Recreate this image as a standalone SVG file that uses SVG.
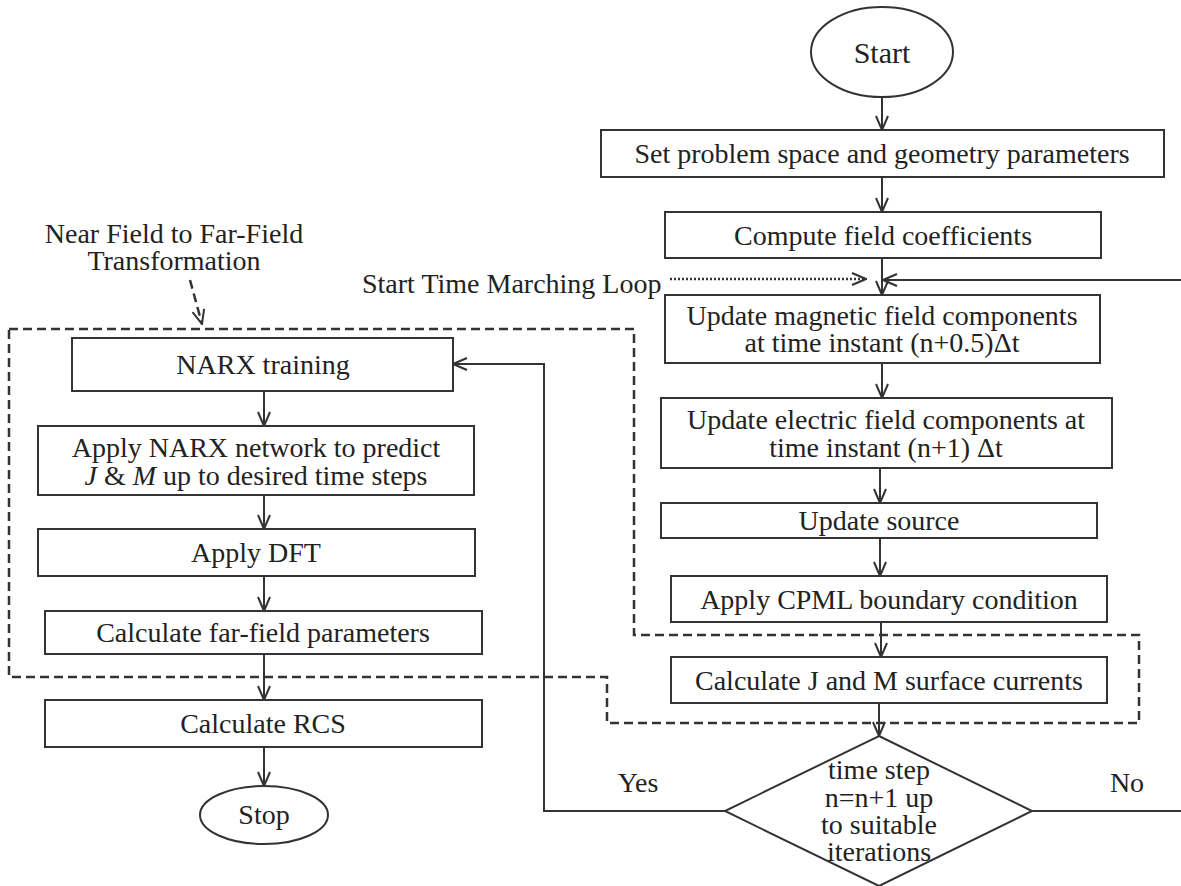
<svg xmlns="http://www.w3.org/2000/svg" width="1181" height="886" viewBox="0 0 1181 886">
<defs>
<marker id="arr" viewBox="0 0 16 14" refX="15" refY="7" markerWidth="16" markerHeight="14" markerUnits="userSpaceOnUse" orient="auto">
<path d="M1,1 L15,7 L1,13" fill="none" stroke="#333" stroke-width="2"/>
</marker>
<style>
.box{fill:#fff;stroke:#333;stroke-width:2}
.t{font-family:"Liberation Serif","Times New Roman",serif;font-size:28px;fill:#222;text-anchor:middle}
.ln{fill:none;stroke:#333;stroke-width:2}
.dash{fill:none;stroke:#333;stroke-width:2.5;stroke-dasharray:9 5}
.dot{fill:none;stroke:#333;stroke-width:2.5;stroke-dasharray:2 2}
</style>
</defs>
<rect width="1181" height="886" fill="#fff"/>

<g id="connectors">
<path class="dash" d="M9,329 L634,329 L634,635 L1139,635 L1139,723 L607,723 L607,677 L9,677 Z"/>
<path class="ln" d="M882,97 L882,130" marker-end="url(#arr)"/>
<path class="ln" d="M882,177 L882,212" marker-end="url(#arr)"/>
<path class="ln" d="M882,258 L882,295" marker-end="url(#arr)"/>
<path class="ln" d="M882,363 L882,398" marker-end="url(#arr)"/>
<path class="ln" d="M880,468 L880,503" marker-end="url(#arr)"/>
<path class="ln" d="M880,538 L880,576" marker-end="url(#arr)"/>
<path class="ln" d="M881,622 L881,657" marker-end="url(#arr)"/>
<path class="ln" d="M879,703 L879,736" marker-end="url(#arr)"/>
<path class="ln" d="M1181,280 L883,280" marker-end="url(#arr)"/>
<path class="ln" d="M1032,811 L1181,811"/>
<path class="ln" d="M725,811 L544,811 L544,364 L453,364" marker-end="url(#arr)"/>
<path class="dot" d="M670,279 L866,279" marker-end="url(#arr)"/>
<path class="dash" d="M190,280 L202,324" marker-end="url(#arr)"/>
<path class="ln" d="M264,391 L264,426" marker-end="url(#arr)"/>
<path class="ln" d="M264,495 L264,529" marker-end="url(#arr)"/>
<path class="ln" d="M264,576 L264,611" marker-end="url(#arr)"/>
<path class="ln" d="M264,654 L264,700" marker-end="url(#arr)"/>
<path class="ln" d="M264,747 L264,786" marker-end="url(#arr)"/>
</g>

<g id="labels">
<text class="t" x="174" y="243">Near Field to Far-Field</text>
<text class="t" x="174" y="270">Transformation</text>
<text class="t" x="362" y="293" style="text-anchor:start">Start Time Marching Loop</text>
<text class="t" x="638" y="792">Yes</text>
<text class="t" x="1127" y="792">No</text>
</g>

<g id="start">
<ellipse class="box" cx="882" cy="52" rx="71" ry="45"/>
<text class="t" x="882" y="63" style="font-size:30px">Start</text>
</g>
<g id="set-problem">
<rect class="box" x="601" y="130" width="563" height="47"/>
<text class="t" x="882" y="163">Set problem space and geometry parameters</text>
</g>
<g id="compute-coeff">
<rect class="box" x="665" y="212" width="436" height="46"/>
<text class="t" x="883" y="245">Compute field coefficients</text>
</g>
<g id="update-magnetic">
<rect class="box" x="665" y="295" width="435" height="68"/>
<text class="t" x="882" y="325">Update magnetic field components</text>
<text class="t" x="882" y="352">at time instant (n+0.5)Δt</text>
</g>
<g id="update-electric">
<rect class="box" x="661" y="398" width="451" height="70"/>
<text class="t" x="886" y="429">Update electric field components at</text>
<text class="t" x="886" y="457">time instant (n+1) Δt</text>
</g>
<g id="update-source">
<rect class="box" x="661" y="503" width="436" height="35"/>
<text class="t" x="879" y="530">Update source</text>
</g>
<g id="apply-cpml">
<rect class="box" x="671" y="576" width="436" height="46"/>
<text class="t" x="889" y="609">Apply CPML boundary condition</text>
</g>
<g id="calc-jm">
<rect class="box" x="671" y="657" width="436" height="46"/>
<text class="t" x="889" y="690">Calculate J and M surface currents</text>
</g>
<g id="decision">
<polygon class="box" points="879,736 1032,811 879,886 725,811"/>
<text class="t" x="879" y="779">time step</text>
<text class="t" x="879" y="807">n=n+1 up</text>
<text class="t" x="879" y="834">to suitable</text>
<text class="t" x="879" y="861">iterations</text>
</g>
<g id="narx-training">
<rect class="box" x="72" y="338" width="381" height="53"/>
<text class="t" x="263" y="374">NARX training</text>
</g>
<g id="apply-narx">
<rect class="box" x="38" y="426" width="436" height="69"/>
<text class="t" x="256" y="457">Apply NARX network to predict</text>
<text class="t" x="256" y="485"><tspan font-style="italic">J</tspan> &amp; <tspan font-style="italic">M</tspan> up to desired time steps</text>
</g>
<g id="apply-dft">
<rect class="box" x="38" y="529" width="437" height="47"/>
<text class="t" x="256" y="562">Apply DFT</text>
</g>
<g id="calc-farfield">
<rect class="box" x="45" y="611" width="437" height="43"/>
<text class="t" x="263" y="642">Calculate far-field parameters</text>
</g>
<g id="calc-rcs">
<rect class="box" x="45" y="700" width="437" height="47"/>
<text class="t" x="263" y="733">Calculate RCS</text>
</g>
<g id="stop">
<ellipse class="box" cx="264" cy="815" rx="64" ry="29"/>
<text class="t" x="264" y="824">Stop</text>
</g>
</svg>
